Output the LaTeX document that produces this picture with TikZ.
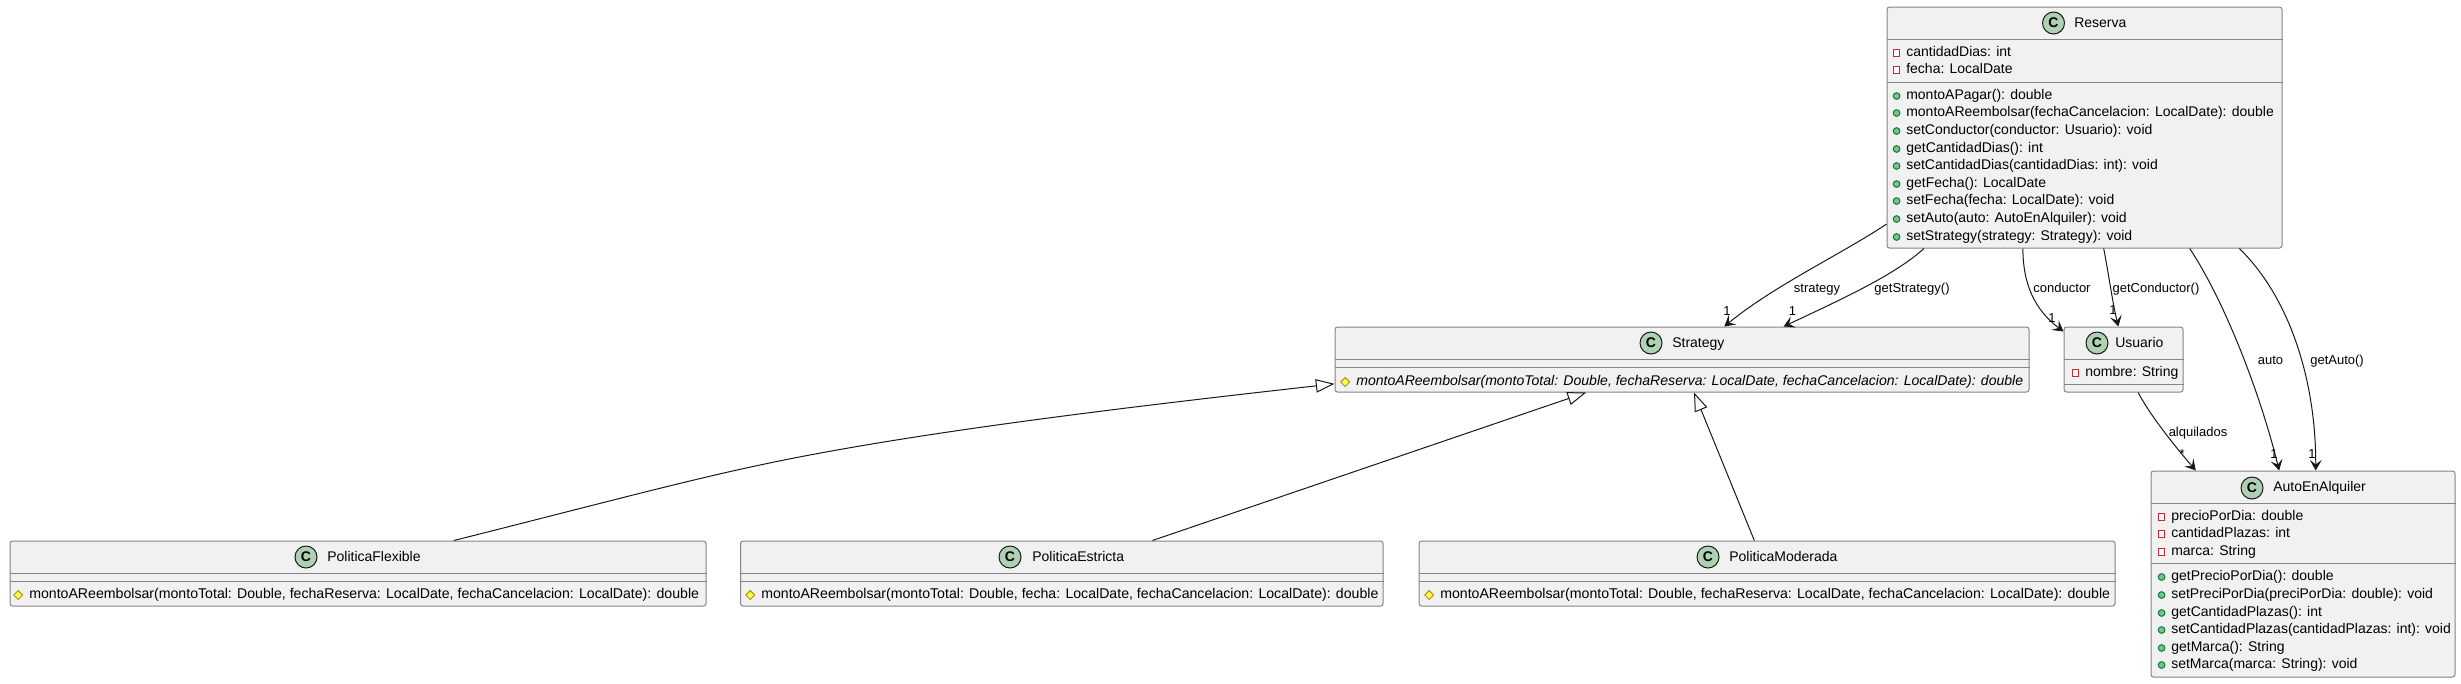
\documentclass[tikz,border=0pt]{standalone}
\usepackage{fontspec}
\setmainfont{Liberation Sans}
\usetikzlibrary{arrows.meta,shapes.geometric}

\definecolor{boxfill}{HTML}{F1F1F1}
\definecolor{boxline}{HTML}{858585}
\definecolor{connline}{HTML}{181818}
\definecolor{iconfill}{HTML}{ADD1B2}
\definecolor{privline}{HTML}{C82930}
\definecolor{publine}{HTML}{038048}
\definecolor{pubfill}{HTML}{84BE84}
\definecolor{protline}{HTML}{B38D22}
\definecolor{protfill}{HTML}{FFFF44}

\tikzset{
    classbox/.style={draw=boxline, fill=boxfill, line width=0.75pt, rounded corners=1.9pt, inner sep=0},
    sepline/.style={draw=boxline, line width=0.75pt},
    classicon/.style={shape=circle, draw=connline, fill=iconfill, line width=0.75pt, minimum size=16.5pt, inner sep=0, font=\fontsize{10.5pt}{12pt}\selectfont\bfseries},
    classname/.style={anchor=west, inner sep=0, text height=7.5pt, text depth=2.25pt, font=\fontsize{10.5pt}{12.6pt}\selectfont},
    privrow/.style={classname, label={[shape=rectangle, draw=privline, fill=white, line width=0.75pt, minimum size=4.6pt, inner sep=0]left:{}}},
    pubrow/.style={classname, label={[shape=circle, draw=publine, fill=pubfill, line width=0.75pt, minimum size=5pt, inner sep=0]left:{}}},
    protrow/.style={classname, font=\fontsize{10.6pt}{12.6pt}\selectfont, label={[shape=diamond, draw=protline, fill=protfill, line width=0.75pt, minimum size=7pt, inner sep=0]left:{}}},
    abstractrow/.style={protrow, font=\fontsize{10.55pt}{12.6pt}\selectfont\itshape},
    connlabel/.style={inner sep=0, text height=7pt, text depth=2.25pt, font=\fontsize{9.75pt}{11.7pt}\selectfont},
    assoc/.style={draw=connline, line width=0.75pt, -{Stealth[length=8pt,width=9pt,inset=3.5pt]}},
    inherit/.style={draw=connline, line width=0.75pt, -{Triangle[length=14pt,width=10pt,fill=white]}},
}

\begin{document}
\begin{tikzpicture}[x=0.75pt, y=-0.75pt, label distance=4.2pt]
    \useasboundingbox (0,0) rectangle (2461,683);

    \node[classbox, minimum width=296.25pt, minimum height=180.75pt] (reserva) at (2084.5,127.5) {};
    \node[classbox, minimum width=520.5pt, minimum height=48.75pt] (strategy) at (1682,359.5) {};
    \node[classbox, minimum width=89.25pt, minimum height=48.75pt] (usuario) at (2123.5,359.5) {};
    \node[classbox, minimum width=228pt, minimum height=154.5pt] (auto) at (2303,574) {};
    \node[classbox, minimum width=522pt, minimum height=48.75pt] (flexible) at (358,573.5) {};
    \node[classbox, minimum width=481.875pt, minimum height=48.75pt] (estricta) at (1061.75,573.5) {};
    \node[classbox, minimum width=522pt, minimum height=48.75pt] (moderada) at (1767,573.5) {};

    \draw[sepline] (reserva.west |- 0,39) -- (reserva.east |- 0,39);
    \draw[sepline] (reserva.west |- 0,82) -- (reserva.east |- 0,82);
    \draw[sepline] (strategy.west |- 0,359) -- (strategy.east |- 0,359);
    \draw[sepline] (strategy.west |- 0,367) -- (strategy.east |- 0,367);
    \draw[sepline] (usuario.west |- 0,359) -- (usuario.east |- 0,359);
    \draw[sepline] (usuario.west |- 0,384) -- (usuario.east |- 0,384);
    \draw[sepline] (auto.west |- 0,503) -- (auto.east |- 0,503);
    \draw[sepline] (auto.west |- 0,563) -- (auto.east |- 0,563);
    \draw[sepline] (flexible.west |- 0,573) -- (flexible.east |- 0,573);
    \draw[sepline] (flexible.west |- 0,581) -- (flexible.east |- 0,581);
    \draw[sepline] (estricta.west |- 0,573) -- (estricta.east |- 0,573);
    \draw[sepline] (estricta.west |- 0,581) -- (estricta.east |- 0,581);
    \draw[sepline] (moderada.west |- 0,573) -- (moderada.east |- 0,573);
    \draw[sepline] (moderada.west |- 0,581) -- (moderada.east |- 0,581);

    \node[classicon] (iconR) at (2053.5,23) {C};
    \node[classname] (nameR) at (2074,24) {Reserva};
    \node[classicon] (iconS) at (1651,343) {C};
    \node[classname] (nameS) at (1672,344) {Strategy};
    \node[classicon] (iconU) at (2097,343) {C};
    \node[classname] (nameU) at (2115,344) {Usuario};
    \node[classicon] (iconA) at (2252,488) {C};
    \node[classname] (nameA) at (2273,488) {AutoEnAlquiler};
    \node[classicon] (iconF) at (306,557) {C};
    \node[classname] (nameF) at (327,558) {PoliticaFlexible};
    \node[classicon] (iconE) at (1010,557) {C};
    \node[classname] (nameE) at (1032,558) {PoliticaEstricta};
    \node[classicon] (iconM) at (1708,557) {C};
    \node[classname] (nameM) at (1729,558) {PoliticaModerada};

    \node[privrow] (r1) at (1906,53) {cantidadDias: int};
    \node[privrow] (r2) at (1906,70) {fecha: LocalDate};
    \node[pubrow] (r3) at (1906,96) {montoAPagar(): double};
    \node[pubrow] (r4) at (1906,113) {montoAReembolsar(fechaCancelacion: LocalDate): double};
    \node[pubrow] (r5) at (1906,131) {setConductor(conductor: Usuario): void};
    \node[pubrow] (r6) at (1906,149) {getCantidadDias(): int};
    \node[pubrow] (r7) at (1906,166) {setCantidadDias(cantidadDias: int): void};
    \node[pubrow] (r8) at (1906,184) {getFecha(): LocalDate};
    \node[pubrow] (r9) at (1906,201) {setFecha(fecha: LocalDate): void};
    \node[pubrow] (r10) at (1906,219) {setAuto(auto: AutoEnAlquiler): void};
    \node[pubrow] (r11) at (1906,237) {setStrategy(strategy: Strategy): void};

    \node[abstractrow] (s1) at (1356,382) {montoAReembolsar(montoTotal: Double, fechaReserva: LocalDate, fechaCancelacion: LocalDate): double};
    \node[privrow] (u1) at (2085,373) {nombre: String};

    \node[privrow] (a1) at (2171,517) {precioPorDia: double};
    \node[privrow] (a2) at (2171,534) {cantidadPlazas: int};
    \node[privrow] (a3) at (2171,552) {marca: String};
    \node[pubrow] (a4) at (2171,577) {getPrecioPorDia(): double};
    \node[pubrow] (a5) at (2171,595) {setPreciPorDia(preciPorDia: double): void};
    \node[pubrow] (a6) at (2171,613) {getCantidadPlazas(): int};
    \node[pubrow] (a7) at (2171,630) {setCantidadPlazas(cantidadPlazas: int): void};
    \node[pubrow] (a8) at (2171,648) {getMarca(): String};
    \node[pubrow] (a9) at (2171,665) {setMarca(marca: String): void};

    \node[protrow] (f1) at (29,595) {montoAReembolsar(montoTotal: Double, fechaReserva: LocalDate, fechaCancelacion: LocalDate): double};
    \node[protrow] (e1) at (761,595) {montoAReembolsar(montoTotal: Double, fecha: LocalDate, fechaCancelacion: LocalDate): double};
    \node[protrow] (m1) at (1440,595) {montoAReembolsar(montoTotal: Double, fechaReserva: LocalDate, fechaCancelacion: LocalDate): double};

    \path [assoc] (reserva.206.5) .. controls (1840,255) and (1775,285) .. (strategy.38.4);
    \path [assoc] (reserva.217.07) .. controls (1895,275) and (1840,300) .. (strategy.18.7);
    \path [assoc] (reserva.243.8) .. controls (2023,285) and (2035,310) .. (usuario.155.2);
    \path [assoc] (reserva.279.42) .. controls (2108,270) and (2112,300) .. (usuario.99.6);
    \path [assoc] (reserva.311.2) .. controls (2227,305) and (2262,400) .. (auto.103.1);
    \path [assoc] (reserva.322.1) .. controls (2292,300) and (2316,385) .. (auto.83.4);
    \path [assoc] (usuario.294) .. controls (2148,412) and (2172,443) .. (auto.136.9);

    \path [inherit] (flexible.19.15) .. controls (595,505) and (680,482) .. (760,465) .. controls (900,435) and (1100,410) .. (strategy.184.7);
    \path [inherit] (estricta.20.1) -- (strategy.199.26);
    \path [inherit] (moderada.111.8) -- (strategy.290.26);

    \node[connlabel] (lstrategy) at (1817,289) {strategy};
    \node[connlabel] (lgetstrategy) at (1912,289) {getStrategy()};
    \node[connlabel] (lconductor) at (2062,289) {conductor};
    \node[connlabel] (lgetconductor) at (2156,289) {getConductor()};
    \node[connlabel] (lauto) at (2270.5,361) {auto};
    \node[connlabel] (lgetauto) at (2337,361) {getAuto()};
    \node[connlabel] (lalquilados) at (2198,433) {alquilados};

    \node[connlabel] (n1) at (1727,312) {1};
    \node[connlabel] (n2) at (1792.5,312) {1};
    \node[connlabel] (n3) at (2052,319) {1};
    \node[connlabel] (n4) at (2113,311) {1};
    \node[connlabel] (n5) at (2274,455) {1};
    \node[connlabel] (n6) at (2312,455) {1};
    \node[connlabel] (n7) at (2182,455) {*};
\end{tikzpicture}
\end{document}
